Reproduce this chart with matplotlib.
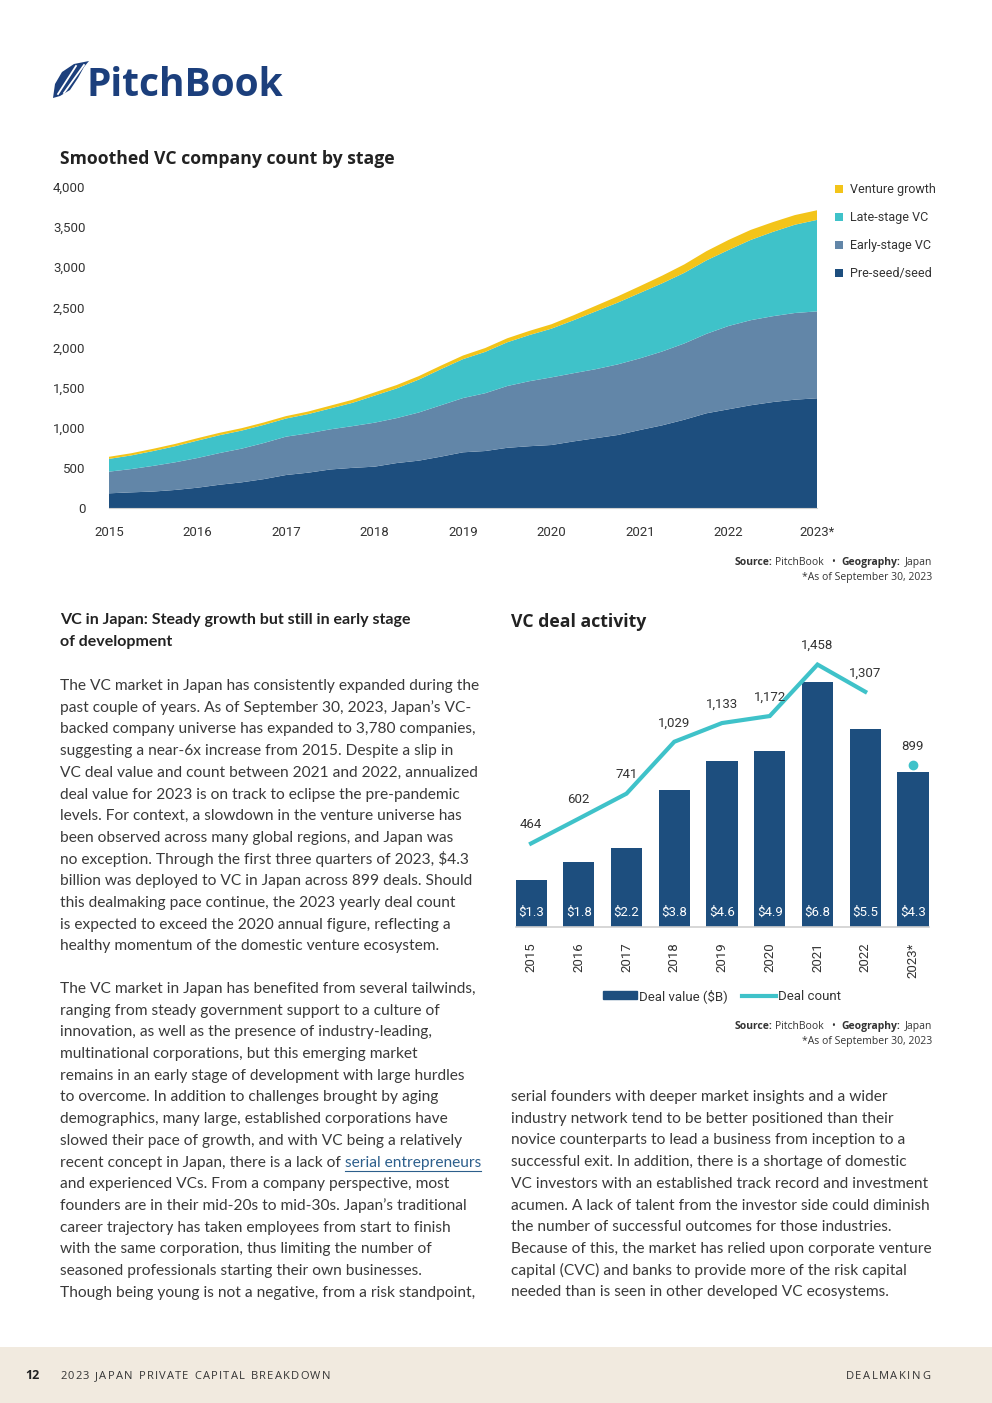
import matplotlib
matplotlib.use('Agg')
import matplotlib.pyplot as plt
from matplotlib.patches import Patch, Rectangle, Polygon
from matplotlib.lines import Line2D

W, H = 992, 1403

# Smoothed VC company count by stage (quarterly, 2015 -> 2023)
quarters = [2015 + i * 0.25 for i in range(33)]
pre_seed = [183, 195, 205, 225, 253, 290, 320, 360, 411, 440, 480, 500,
            515, 560, 590, 640, 694, 710, 750, 770, 785, 830, 870, 910,
            972, 1030, 1100, 1180, 1230, 1280, 1320, 1350, 1367]
early_stage = [270, 290, 320, 345, 370, 395, 420, 450, 478, 490, 500, 520,
               548, 560, 600, 640, 676, 720, 770, 810, 843, 850, 860, 880,
               893, 920, 950, 990, 1038, 1060, 1070, 1080, 1083]
late_stage = [159, 170, 185, 200, 217, 222, 225, 226, 226, 240, 260, 290,
              337, 370, 410, 450, 485, 515, 545, 575, 607, 660, 720, 770,
              815, 850, 880, 915, 947, 1000, 1050, 1100, 1140]
venture_growth = [26, 27, 28, 29, 30, 30, 30, 30, 30, 32, 35, 38,
                  40, 42, 43, 44, 45, 48, 50, 52, 55, 62, 70, 78,
                  85, 95, 105, 115, 125, 125, 122, 120, 120]
stage_names = ['Pre-seed/seed', 'Early-stage VC', 'Late-stage VC', 'Venture growth']
area_years = [2015, 2016, 2017, 2018, 2019, 2020, 2021, 2022, 2023]
area_year_labels = ['2015', '2016', '2017', '2018', '2019', '2020', '2021', '2022', '2023*']

# VC deal activity
deal_years = ['2015', '2016', '2017', '2018', '2019', '2020', '2021', '2022', '2023*']
deal_value = [1.3, 1.8, 2.2, 3.8, 4.6, 4.9, 6.8, 5.5, 4.3]
deal_count = [464, 602, 741, 1029, 1133, 1172, 1458, 1307, 899]

NAVY = '#1d4e7e'
SLATE = '#6286a8'
TEAL = '#3fc2c9'
YELLOW = '#f3c419'
TXT = '#333333'
LINK = '#2d5f8c'
CHART_FONT = ['Roboto', 'DejaVu Sans']
BODY_FONT = ['Lato', 'DejaVu Sans']
HEAD_FONT = ['Open Sans', 'DejaVu Sans']

fig = plt.figure(figsize=(W / 100, H / 100), dpi=100)
fig.patch.set_facecolor('white')


def fx(x):
    return x / W


def fy(y):
    return 1 - y / H


def ptext(x, y, s, **kw):
    return fig.text(fx(x), fy(y), s, **kw)


renderer = fig.canvas.get_renderer()


def width_of(t):
    return t.get_window_extent(renderer).width


def tracked(x, y, s, track, right=False, **kw):
    # draw text one char at a time to get letter spacing
    probe = []
    for ch in s:
        t = ptext(0, -100, ch if ch != ' ' else 'n', **kw)
        w = width_of(t) * (0.55 if ch == ' ' else 1)
        t.remove()
        probe.append(w)
    total = sum(probe) + track * (len(s) - 1)
    if right:
        x -= total
    for ch, w in zip(s, probe):
        if ch != ' ':
            ptext(x, y, ch, **kw)
        x += w + track


# ---- logo ----
feather = Polygon([(fx(53), fy(98)), (fx(55), fy(84)), (fx(62), fy(72)), (fx(74), fy(64)),
                   (fx(89), fy(61)), (fx(84), fy(67)), (fx(78), fy(78)), (fx(70), fy(90)),
                   (fx(60), fy(96))], closed=True, transform=fig.transFigure,
                  facecolor='#1c3f7c', edgecolor='none')
fig.patches.append(feather)
for (x0, y0, x1, y1) in [(58, 94, 76, 66), (64, 93, 84, 65)]:
    fig.add_artist(Line2D([fx(x0), fx(x1)], [fy(y0), fy(y1)], color='white', lw=1.3,
                          transform=fig.transFigure))
ptext(86, 96, 'PitchBook', fontsize=28, fontweight='bold', color='#1c3f7c',
      family=HEAD_FONT, va='baseline')

# ---- chart 1: stacked area ----
ptext(60, 164, 'Smoothed VC company count by stage', fontsize=12.7, fontweight='bold',
      color='#222222', family=HEAD_FONT, va='baseline')

ax1 = fig.add_axes([fx(109), fy(508), (817 - 109) / W, (508 - 187) / H])
ax1.stackplot(quarters, pre_seed, early_stage, late_stage, venture_growth,
              colors=[NAVY, SLATE, TEAL, YELLOW], labels=stage_names, linewidth=0)
ax1.set_xlim(2015, 2023)
ax1.set_ylim(0, 4000)
ax1.set_yticks(range(0, 4001, 500))
ax1.set_yticklabels([f'{v:,}' for v in range(0, 4001, 500)])
ax1.set_xticks(area_years)
ax1.set_xticklabels(area_year_labels)
ax1.tick_params(length=0, labelsize=9.5, labelcolor=TXT, pad=13)
ax1.tick_params(axis='y', pad=17)
for lab in ax1.get_xticklabels() + ax1.get_yticklabels():
    lab.set_family(CHART_FONT)
for s in ['top', 'right', 'left']:
    ax1.spines[s].set_visible(False)
ax1.spines['bottom'].set_color('#d0d0d0')
ax1.spines['bottom'].set_linewidth(0.8)
h, l = ax1.get_legend_handles_labels()
leg1 = fig.legend(h[::-1], l[::-1], loc='upper left', bbox_to_anchor=(fx(830), fy(178)),
                  frameon=False, handlelength=0.6, handleheight=0.6,
                  handletextpad=0.6, labelspacing=1.2, borderaxespad=0,
                  prop={'family': CHART_FONT, 'size': 9})
for t in leg1.get_texts():
    t.set_color(TXT)


def source_block(y_first):
    parts = [('Japan', 'normal'), ('Geography:', 'bold'), ('\u2022', 'normal'),
             ('PitchBook', 'normal'), ('Source:', 'bold')]
    gaps = [4, 7, 7, 3]
    x = 932
    for i, (s, w) in enumerate(parts):
        t = ptext(x, y_first, s, fontsize=7.5, fontweight=w, color=TXT,
                  family=HEAD_FONT, ha='right', va='baseline')
        x -= width_of(t)
        if i < len(gaps):
            x -= gaps[i]
    ptext(932, y_first + 15, '*As of September 30, 2023', fontsize=7.5, color=TXT,
          family=HEAD_FONT, ha='right', va='baseline')


source_block(565)

# ---- chart 2: bars + line ----
ptext(511, 627, 'VC deal activity', fontsize=12.7, fontweight='bold', color='#222222',
      family=HEAD_FONT, va='baseline')

ax2 = fig.add_axes([fx(515.5), fy(927), (928.5 - 515.5) / W, (927 - 639) / H])
xpos = list(range(len(deal_years)))
ax2.bar(xpos, deal_value, width=0.65, color=NAVY, zorder=2)
ax2.set_xlim(-0.325, len(deal_years) - 1 + 0.325)
ax2.set_ylim(0, 8)
for x, v in zip(xpos, deal_value):
    ax2.text(x, 0.42, f'${v}', ha='center', va='center', color='white', fontsize=9.5,
             family=CHART_FONT, zorder=4)
ax2.set_xticks(xpos)
ax2.set_xticklabels(deal_years, rotation=90, family=CHART_FONT)
ax2.tick_params(length=0, labelsize=9.5, labelcolor=TXT, pad=11, left=False,
                labelleft=False)
for s in ['top', 'right', 'left']:
    ax2.spines[s].set_visible(False)
ax2.spines['bottom'].set_color('#d0d0d0')
ax2.spines['bottom'].set_linewidth(1.2)

ax3 = ax2.twinx()
ax3.set_ylim(0, 1600)
ax3.plot(xpos[:-1], deal_count[:-1], color=TEAL, lw=3, zorder=3, solid_joinstyle='miter')
ax3.plot(xpos[-1], deal_count[-1], 'o', color=TEAL, ms=6, zorder=3)
for x, v in zip(xpos, deal_count):
    ax3.text(x, v + 105, f'{v:,}', ha='center', va='center', color=TXT, fontsize=9.5,
             family=CHART_FONT)
ax3.axis('off')

leg2 = fig.legend([Patch(color=NAVY), Line2D([0], [0], color=TEAL, lw=3)],
                  ['Deal value ($B)', 'Deal count'], loc='center',
                  bbox_to_anchor=(fx(722), fy(996)), ncol=2, frameon=False,
                  handlelength=2.6, handleheight=0.55, handletextpad=0.15,
                  columnspacing=1.1, prop={'family': CHART_FONT, 'size': 9.5})
for t in leg2.get_texts():
    t.set_color(TXT)

source_block(1029)

# ---- body text ----
head_kw = dict(fontsize=11.5, fontweight='bold', color='#222222', family=BODY_FONT,
               va='baseline')
ptext(60, 624, 'VC in Japan: Steady growth but still in early stage', **head_kw)
ptext(60, 646, 'of development', **head_kw)

para1 = [
    'The VC market in Japan has consistently expanded during the',
    'past couple of years. As of September 30, 2023, Japan\u2019s VC-',
    'backed company universe has expanded to 3,780 companies,',
    'suggesting a near-6x increase from 2015. Despite a slip in',
    'VC deal value and count between 2021 and 2022, annualized',
    'deal value for 2023 is on track to eclipse the pre-pandemic',
    'levels. For context, a slowdown in the venture universe has',
    'been observed across many global regions, and Japan was',
    'no exception. Through the first three quarters of 2023, $4.3',
    'billion was deployed to VC in Japan across 899 deals. Should',
    'this dealmaking pace continue, the 2023 yearly deal count',
    'is expected to exceed the 2020 annual figure, reflecting a',
    'healthy momentum of the domestic venture ecosystem.',
]
para2 = [
    'The VC market in Japan has benefited from several tailwinds,',
    'ranging from steady government support to a culture of',
    'innovation, as well as the presence of industry-leading,',
    'multinational corporations, but this emerging market',
    'remains in an early stage of development with large hurdles',
    'to overcome. In addition to challenges brought by aging',
    'demographics, many large, established corporations have',
    'slowed their pace of growth, and with VC being a relatively',
    None,
    'and experienced VCs. From a company perspective, most',
    'founders are in their mid-20s to mid-30s. Japan\u2019s traditional',
    'career trajectory has taken employees from start to finish',
    'with the same corporation, thus limiting the number of',
    'seasoned professionals starting their own businesses.',
    'Though being young is not a negative, from a risk standpoint,',
]
para3 = [
    'serial founders with deeper market insights and a wider',
    'industry network tend to be better positioned than their',
    'novice counterparts to lead a business from inception to a',
    'successful exit. In addition, there is a shortage of domestic',
    'VC investors with an established track record and investment',
    'acumen. A lack of talent from the investor side could diminish',
    'the number of successful outcomes for those industries.',
    'Because of this, the market has relied upon corporate venture',
    'capital (CVC) and banks to provide more of the risk capital',
    'needed than is seen in other developed VC ecosystems.',
]
LH = 21.7
BODY_SIZE = 11.15
body_kw = dict(fontsize=BODY_SIZE, color='#3a3a3a', family=BODY_FONT, va='baseline')


def paragraph(x, y0, lines):
    for i, s in enumerate(lines):
        y = y0 + i * LH
        if s is None:
            t = ptext(x, y, 'recent concept in Japan, there is a lack of', **body_kw)
            xl = x + width_of(t) + 4
            t2 = ptext(xl, y, 'serial entrepreneurs', fontsize=BODY_SIZE, color=LINK,
                       family=BODY_FONT, va='baseline')
            wl = width_of(t2)
            fig.add_artist(Line2D([fx(xl), fx(xl + wl)], [fy(y + 4), fy(y + 4)],
                                  color=LINK, lw=0.8, transform=fig.transFigure))
        else:
            ptext(x, y, s, **body_kw)


paragraph(60, 690, para1)
paragraph(60, 993, para2)
paragraph(511, 1101, para3)

# ---- footer ----
fig.patches.append(Rectangle((0, 0), 1, (H - 1347) / H, transform=fig.transFigure,
                             facecolor='#f1eadf', edgecolor='none', zorder=0))
ptext(25, 1379, '12', fontsize=9, fontweight='bold', color='#222222', family=HEAD_FONT,
      va='baseline')
foot_kw = dict(fontsize=8, color='#333333', family=HEAD_FONT, va='baseline')
tracked(60, 1379, '2023 JAPAN PRIVATE CAPITAL BREAKDOWN', 1.2, **foot_kw)
tracked(930, 1379, 'DEALMAKING', 1.5, right=True, **foot_kw)

fig.savefig('out.png', dpi=100, facecolor='white')
